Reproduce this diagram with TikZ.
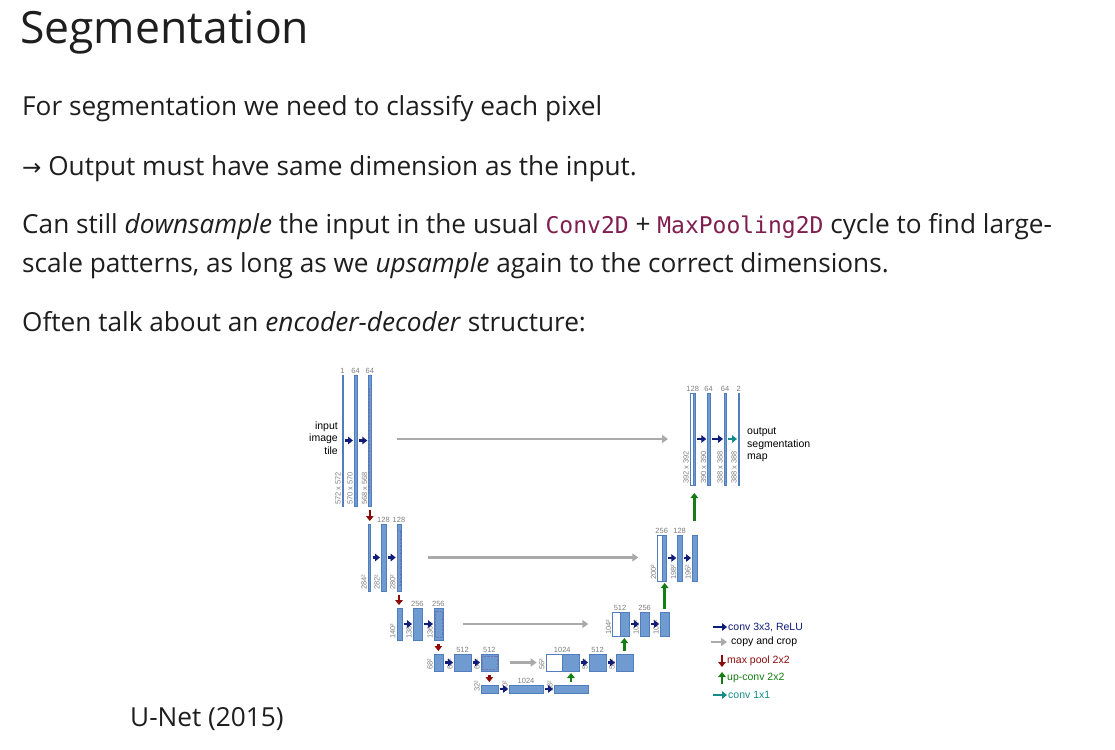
\documentclass[tikz,border=0pt]{standalone}
\usepackage{fontspec}
\setmainfont{Open Sans}
\newfontfamily\arial{Liberation Sans}
\newfontfamily\dejavu{DejaVu Sans}
\newfontfamily\codefont{DejaVu Sans Mono}
\usetikzlibrary{arrows.meta}
\definecolor{barblue}{RGB}{112,155,208}
\definecolor{baredge}{RGB}{80,125,190}
\definecolor{navy}{RGB}{16,28,120}
\definecolor{cgray}{RGB}{170,170,170}
\definecolor{dred}{RGB}{140,10,10}
\definecolor{dgreen}{RGB}{20,125,20}
\definecolor{teal2}{RGB}{20,140,140}
\definecolor{codec}{RGB}{128,30,80}
\definecolor{txt}{RGB}{30,30,30}
\newcommand\code[1]{{\codefont\color{codec}\fontsize{23}{28}\selectfont#1}}
\newcommand\ubar[6][barblue]{\node[ubarst,fill=#1,minimum width=#4-#3,minimum height=#6-#5,anchor=north west] (#2) at (#3,#5) {};}
\begin{document}
\begin{tikzpicture}[x=1pt,y=-1pt,
  ubarst/.style={draw=baredge,line width=0.4pt,inner sep=0pt,outer sep=0pt},
  conv/.style={navy,line width=2.4pt,-{Triangle[length=5pt,width=7.5pt]},shorten <=2pt,shorten >=1pt},
  copyar/.style={cgray,line width=2.8pt,-{Triangle[length=6pt,width=8pt]}},
  pool/.style={dred,line width=2.4pt,-{Triangle[length=5pt,width=7.5pt]},shorten <=4pt,shorten >=3pt},
  upc/.style={dgreen,line width=2.4pt,-{Triangle[length=5pt,width=7.5pt]},shorten <=3pt,shorten >=2pt},
  c11/.style={teal2,line width=2.4pt,-{Triangle[length=5pt,width=7.5pt]},shorten <=2pt,shorten >=1pt},
  num/.style={font=\arial\fontsize{7.5}{8}\selectfont,text=gray,inner sep=1pt,anchor=south},
  dim/.style={font=\arial\fontsize{7.5}{8}\selectfont,text=gray,inner sep=1pt,rotate=90,anchor=south west},
  body/.style={anchor=base west,inner sep=0pt,text=txt,font=\fontsize{26.2}{30}\selectfont},
  leg/.style={anchor=west,inner sep=1pt,font=\arial\fontsize{10.5}{12}\selectfont},
  crop/.style={densely dotted,navy!60,line width=0.4pt}]
\useasboundingbox (0,0) rectangle (1115,749);
\fill[white] (0,0) rectangle (1115,749);
% text
\node[anchor=base west,inner sep=0pt,text=txt,font=\fontsize{44.5}{50}\selectfont] (title) at (20,44) {Segmentation};
\node[body] (t1) at (22,115) {For segmentation we need to classify each pixel};
\node[body] (t2) at (22,175) {{\dejavu\fontsize{23}{28}\selectfont →} Output must have same dimension as the input.};
\node[body] (t3) at (22,233) {Can still \emph{downsample} the input in the usual \code{Conv2D} + \code{MaxPooling2D} cycle to find large-};
\node[body] (t4) at (22,272) {scale patterns, as long as we \emph{upsample} again to the correct dimensions.};
\node[body] (t5) at (22,331) {Often talk about an \emph{encoder-decoder} structure:};
\node[body] (cap) at (130,726) {U-Net (2015)};
% level 1
\ubar{a1}{341.8}{343}{375}{506}
\ubar{a2}{354}{357}{375}{506}
\ubar{a3}{368.3}{371.3}{375}{506}
\draw[crop] (368.8,388) -- (368.8,493) (370.8,388) -- (370.8,493);
\node[num] at (a1.north) {1};\node[num] at (a2.north) {64};\node[num] at (a3.north) {64};
\node[dim] at (a1.south west) {572 x 572};\node[dim] at (a2.south west) {570 x 570};\node[dim] at (a3.south west) {568 x 568};
\draw[conv] (a1.east) -- (a2.west);\draw[conv] (a2.east) -- (a3.west);
\node[anchor=east,align=right,inner sep=1pt,font=\arial\fontsize{10.5}{12.5}\selectfont] (inp) at (339,438) {input\\image\\tile};
% level 2
\ubar{b1}{368}{370.5}{524}{591}
\ubar{b2}{381}{386}{524}{591}
\ubar{b3}{396.7}{401.3}{524}{591}
\draw[crop] (397.5,530) rectangle (400.5,585);
\node[num] at (b2.north) {128};\node[num] at (b3.north) {128};
\node[dim] at (b1.south west) {284²};\node[dim] at (b2.south west) {282²};\node[dim] at (b3.south west) {280²};
\draw[conv] (b1.east) -- (b2.west);\draw[conv] (b2.east) -- (b3.west);
\draw[pool] (a3.south) -- (a3.south |- b3.north);
% level 3
\ubar{c1}{396.7}{401.7}{608}{640}
\ubar{c2}{413}{421.7}{608}{640}
\ubar{c3}{434}{442.7}{608}{640}
\draw[crop] (435,611) rectangle (441.7,637);
\node[num] at (c2.north) {256};\node[num] at (c3.north) {256};
\node[dim] at (c1.south west) {140²};\node[dim] at (c2.south west) {138²};\node[dim] at (c3.south west) {136²};
\draw[conv] (c1.east) -- (c2.west);\draw[conv] (c2.east) -- (c3.west);
\draw[pool] (b3.south) -- (b3.south |- c3.north);
% level 4
\ubar{d1}{434}{442.7}{654}{671}
\ubar{d2}{454}{471}{654}{671}
\ubar{d3}{481}{497.7}{654}{671}
\draw[crop] (482,656) rectangle (496.7,669);
\node[num] at (d2.north) {512};\node[num] at (d3.north) {512};
\node[dim] at (d1.south west) {68²};\node[dim] at (d2.south west) {66²};\node[dim] at (d3.south west) {64²};
\draw[conv] (d1.east) -- (d2.west);\draw[conv] (d2.east) -- (d3.west);
\draw[pool] (c3.south) -- (c3.south |- d3.north);
% level 5
\ubar{e1}{481}{497.7}{685}{693}
\ubar{e2}{509}{543}{685}{693}
\ubar{e3}{554}{588}{685}{693}
\node[num] at (e2.north) {1024};
\node[dim] at (e1.south west) {32²};\node[dim] at (e2.south west) {30²};\node[dim] at (e3.south west) {28²};
\draw[conv] (e1.east) -- (e2.west);\draw[conv] (e2.east) -- (e3.west);
\draw[pool] (d3.south) -- (d3.south |- e3.north);
% decoder level 4
\ubar[white]{f0}{545.7}{562.3}{654}{671}
\ubar{f1}{562.3}{579}{654}{671}
\ubar{f2}{589}{606}{654}{671}
\ubar{f3}{616}{632.7}{654}{671}
\node[num] at (f0.north east) {1024};\node[num] at (f2.north) {512};
\node[dim] at (f0.south west) {56²};\node[dim] at (f2.south west) {54²};\node[dim] at (f3.south west) {52²};
\draw[conv] (f1.east) -- (f2.west);\draw[conv] (f2.east) -- (f3.west);
\draw[upc] (e3.north) -- (e3.north |- f1.south);
\draw[copyar,shorten <=12pt,shorten >=9pt] (d3.east) -- (f0.west);
% decoder level 3
\ubar[white]{g0}{612.3}{620}{612}{636}
\ubar{g1}{620}{629}{612}{636}
\ubar{g2}{640}{649.3}{612}{636}
\ubar{g3}{660}{669.3}{612}{636}
\node[num] at (g0.north east) {512};\node[num] at (g2.north) {256};
\node[dim] at (g0.south west) {104²};\node[dim] at (g2.south west) {102²};\node[dim] at (g3.south west) {100²};
\draw[conv] (g1.east) -- (g2.west);\draw[conv] (g2.east) -- (g3.west);
\draw[upc] (f3.north) -- (f3.north |- g1.south);
\draw[copyar,shorten <=20pt,shorten >=24pt] (c3.east |- 0,624) -- (g0.west |- 0,624);
% decoder level 2
\ubar[white]{h0}{657.3}{661.7}{535}{581}
\ubar{h1}{661.7}{666}{535}{581}
\ubar{h2}{677.3}{682}{535}{581}
\ubar{h3}{692}{696.7}{535}{581}
\node[num] at (h0.north east) {256};\node[num] at (h2.north) {128};
\node[dim] at (h0.south west) {200²};\node[dim] at (h2.south west) {198²};\node[dim] at (h3.south west) {196²};
\draw[conv] (h1.east) -- (h2.west);\draw[conv] (h2.east) -- (h3.west);
\draw[upc] (g3.north) -- (g3.north |- h1.south);
\draw[copyar,shorten <=27pt,shorten >=19pt] (b3.east) -- (h0.west |- b3.east);
% decoder level 1
\ubar[white]{i0}{690}{692.7}{393}{485}
\ubar{i1}{692.7}{695.3}{393}{485}
\ubar{i2}{707.3}{710}{393}{485}
\ubar{i3}{724}{726.3}{393}{485}
\ubar{i4}{738}{739.3}{393}{485}
\node[num] at (i0.north east) {128};\node[num] at (i2.north) {64};\node[num] at (i3.north) {64};\node[num] at (i4.north) {2};
\node[dim] at (i0.south west) {392 x 392};\node[dim] at (i2.south west) {390 x 390};\node[dim] at (i3.south west) {388 x 388};\node[dim] at (i4.south west) {388 x 388};
\draw[conv] (i1.east |- 0,439) -- (i2.west |- 0,439);\draw[conv] (i2.east |- 0,439) -- (i3.west |- 0,439);
\draw[c11] (i3.east |- 0,439) -- (i4.west |- 0,439);
\draw[upc,shorten <=14pt,shorten >=8pt] (h3.north) -- (h3.north |- i1.south);
\draw[copyar,shorten <=26pt,shorten >=22pt] (a3.east |- 0,439) -- (i0.west |- 0,439);
\node[anchor=west,align=left,inner sep=1pt,font=\arial\fontsize{10.5}{12.5}\selectfont] (outp) at (746,445) {output\\segmentation\\map};
% legend
\coordinate (l1) at (713,627);\coordinate (l1e) at (727,627);
\draw[conv,shorten <=0pt,shorten >=0pt] (l1) -- (l1e);
\node[leg,text=navy] (lt1) at (l1e) {conv 3x3, ReLU};
\coordinate (l2) at (711,642);\coordinate (l2e) at (727,642);
\draw[copyar,line width=2.4pt] (l2) -- (l2e);
\node[leg,text=black] (lt2) at (730,642) {copy and crop};
\coordinate (l3) at (722,655);\coordinate (l3e) at (722,667);
\draw[pool,shorten <=0pt,shorten >=0pt] (l3) -- (l3e);
\node[leg,text=dred] (lt3) at (726,661) {max pool 2x2};
\coordinate (l4) at (722,684);\coordinate (l4e) at (722,672);
\draw[upc,shorten <=0pt,shorten >=0pt] (l4) -- (l4e);
\node[leg,text=dgreen] (lt4) at (726,678) {up-conv 2x2};
\coordinate (l5) at (713,695);\coordinate (l5e) at (727,695);
\draw[c11,shorten <=0pt,shorten >=0pt] (l5) -- (l5e);
\node[leg,text=teal2] (lt5) at (l5e) {conv 1x1};
\end{tikzpicture}
\end{document}
